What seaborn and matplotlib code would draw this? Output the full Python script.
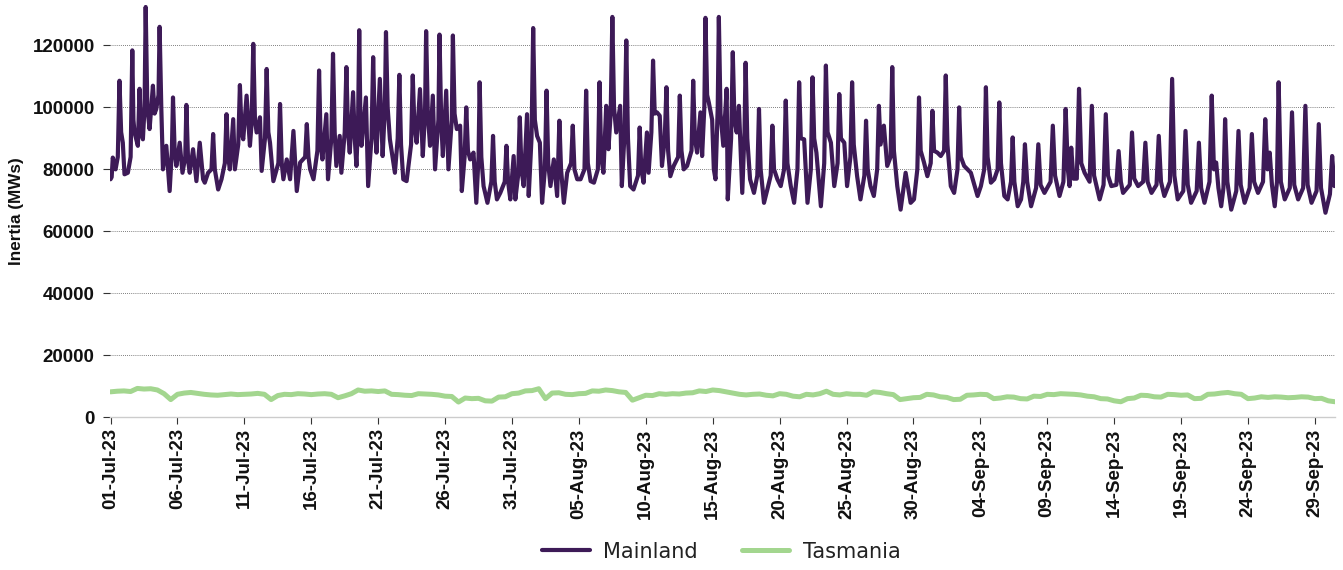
import matplotlib
matplotlib.use("Agg")
import matplotlib.pyplot as plt
import matplotlib.dates as mdates
import seaborn as sns
import pandas as pd

# hours since 01-Jul-23 00:00 and inertia (MWs)
mainland_hours = [
    0, 2, 4, 9, 13, 16, 19, 22, 25, 31,
    36, 39, 41, 43, 49, 52, 55, 58, 61, 63,
    66, 70, 76, 79, 82, 86, 88, 91, 94, 100,
    106, 110, 112, 115, 118, 124, 129, 134, 136, 139,
    142, 148, 154, 160, 166, 169, 175, 181, 184, 187,
    193, 199, 205, 208, 211, 214, 220, 223, 229, 232,
    235, 238, 244, 250, 253, 256, 259, 262, 268, 271,
    277, 280, 283, 286, 292, 301, 304, 307, 310, 316,
    322, 328, 334, 340, 349, 352, 355, 358, 364, 371,
    374, 377, 380, 387, 390, 396, 399, 402, 405, 411,
    414, 420, 423, 426, 429, 435, 438, 441, 444, 446,
    448, 450, 458, 462, 468, 471, 474, 477, 483, 488,
    492, 494, 497, 501, 510, 515, 518, 521, 525, 531,
    539, 542, 545, 549, 555, 560, 564, 566, 569, 573,
    578, 582, 588, 590, 593, 596, 602, 606, 612, 614,
    617, 621, 627, 630, 635, 638, 641, 645, 651, 656,
    660, 662, 665, 669, 676, 683, 686, 689, 693, 699,
    707, 710, 713, 717, 723, 726, 731, 734, 737, 741,
    747, 750, 755, 758, 761, 765, 770, 774, 779, 782,
    785, 789, 795, 801, 805, 808, 813, 819, 826, 829,
    832, 837, 843, 850, 853, 856, 861, 867, 874, 877,
    880, 884, 889, 893, 897, 900, 903, 907, 914, 917,
    922, 925, 928, 932, 938, 946, 949, 952, 956, 962,
    965, 970, 973, 976, 980, 985, 989, 994, 997, 1000,
    1004, 1010, 1018, 1021, 1024, 1028, 1034, 1042, 1045, 1048,
    1052, 1058, 1061, 1065, 1067, 1070, 1073, 1079, 1082, 1085,
    1089, 1091, 1094, 1099, 1105, 1107, 1113, 1116, 1119, 1123,
    1127, 1133, 1137, 1139, 1142, 1147, 1154, 1160, 1163, 1166,
    1172, 1178, 1184, 1187, 1190, 1196, 1202, 1208, 1211, 1214,
    1220, 1226, 1232, 1235, 1238, 1244, 1250, 1256, 1259, 1262,
    1266, 1274, 1280, 1283, 1286, 1292, 1298, 1304, 1307, 1310,
    1316, 1321, 1327, 1330, 1333, 1339, 1345, 1352, 1355, 1358,
    1363, 1369, 1375, 1378, 1381, 1387, 1393, 1399, 1402, 1405,
    1411, 1417, 1426, 1435, 1441, 1447, 1450, 1453, 1459, 1465,
    1471, 1474, 1477, 1483, 1489, 1495, 1498, 1501, 1507, 1513,
    1519, 1522, 1525, 1531, 1543, 1555, 1561, 1567, 1570, 1573,
    1579, 1585, 1591, 1594, 1597, 1603, 1609, 1615, 1618, 1621,
    1627, 1633, 1637, 1640, 1644, 1651, 1660, 1664, 1668, 1675,
    1686, 1690, 1694, 1702, 1709, 1713, 1717, 1720, 1723, 1727,
    1733, 1737, 1741, 1747, 1756, 1760, 1764, 1774, 1781, 1785,
    1789, 1795, 1804, 1808, 1812, 1816, 1828, 1832, 1836, 1843,
    1852, 1856, 1860, 1867, 1876, 1880, 1884, 1890, 1900, 1904,
    1908, 1914, 1924, 1928, 1932, 1938, 1948, 1952, 1956, 1962,
    1971, 1975, 1979, 1983, 1987, 1992, 1996, 1999, 2003, 2010,
    2019, 2023, 2027, 2034, 2043, 2047, 2051, 2058, 2067, 2071,
    2075, 2079, 2083, 2088, 2092, 2095, 2099, 2106, 2115, 2119,
    2123, 2130, 2139, 2143, 2147, 2154, 2163, 2167, 2171, 2179,
    2187, 2191, 2195,
]
mainland_mw = [
    76800, 77500, 83800, 80000, 84000, 108600, 92000, 88600, 78400, 78900,
    84000, 118400, 96000, 91900, 87600, 106000, 92000, 89700, 100000, 132400,
    100000, 93000, 107000, 98000, 99500, 104000, 126000, 100000, 80000, 87600,
    73000, 86000, 103200, 86000, 81100, 88600, 78900, 84000, 100800, 83000,
    78900, 86500, 76200, 88600, 76800, 75700, 78900, 80000, 91400, 80000,
    73500, 76800, 82000, 97800, 84000, 80000, 96200, 80000, 88000, 107200,
    92000, 89700, 103800, 87600, 95000, 120500, 96000, 91900, 96800, 79500,
    90000, 112400, 92000, 88600, 76200, 82000, 101100, 82000, 76800, 83200,
    76800, 92400, 73000, 82200, 84000, 94600, 84000, 80000, 76800, 86000,
    111900, 88000, 83200, 97800, 76800, 90000, 117300, 92000, 81100, 90800,
    78900, 92000, 113000, 92000, 85400, 104900, 90000, 81100, 96000, 124900,
    98000, 87600, 103200, 74600, 90000, 116200, 94000, 85400, 109200, 84300,
    100000, 124300, 100000, 89700, 78900, 90000, 110500, 88000, 76800, 76200,
    88000, 110300, 94000, 88600, 105900, 84300, 98000, 124600, 98000, 87600,
    103800, 80000, 96000, 123500, 96000, 84300, 105400, 80000, 96000, 123200,
    98000, 93000, 94100, 73000, 84000, 100000, 86000, 83200, 85400, 69200,
    84000, 108100, 84000, 74600, 69200, 76000, 90800, 76000, 70300, 72400,
    76000, 87600, 76000, 70300, 84300, 70300, 78000, 96800, 80000, 74600,
    97800, 71400, 90000, 125600, 96000, 90800, 88600, 69200, 80000, 105400,
    82000, 74600, 83200, 71400, 95700, 80000, 69200, 78900, 82000, 94100,
    80000, 76800, 76800, 80000, 105400, 82000, 76200, 75700, 80000, 108100,
    84000, 78900, 100500, 86500, 98000, 129200, 100000, 91900, 100500, 74600,
    92000, 121600, 90000, 74600, 73500, 78000, 93500, 80000, 75700, 91900,
    78900, 92000, 115100, 98000, 98400, 97300, 81100, 90000, 106500, 86000,
    77800, 81100, 84000, 103800, 86000, 80000, 81100, 86000, 108600, 90000,
    85400, 98400, 84300, 100000, 128900, 104000, 101600, 96000, 80000, 76800,
    100000, 129200, 98000, 87600, 106000, 70300, 90000, 117800, 96000, 91900,
    100500, 72400, 92000, 114400, 90000, 76800, 72400, 78000, 99500, 80000,
    69200, 73500, 78000, 94100, 80000, 76800, 74600, 80000, 102200, 82000,
    74600, 69200, 80000, 108100, 90000, 89700, 69200, 80000, 109700, 90000,
    85400, 68100, 82000, 113500, 92000, 88600, 74600, 82000, 104300, 90000,
    88600, 74600, 84000, 108100, 88000, 77800, 70300, 78000, 95700, 80000,
    74600, 71400, 80000, 100500, 88000, 94100, 81100, 84000, 113000, 86000,
    74600, 67000, 78900, 69200, 70300, 80000, 103200, 86000, 82200, 77800,
    82000, 98900, 86000, 85400, 84300, 86000, 110300, 88000, 74600, 72400,
    80000, 100000, 84000, 81100, 78900, 71400, 74600, 80000, 106500, 84000,
    75700, 76800, 80000, 101600, 82000, 71400, 70300, 76000, 90300, 76000,
    68100, 70300, 76000, 88100, 76000, 68100, 74000, 88100, 75000, 72400,
    76000, 94100, 78000, 71400, 76000, 99500, 80000, 74600, 87000, 77000,
    77000, 106000, 82000, 78900, 76000, 100500, 78000, 70300, 75000, 97800,
    78000, 74600, 75000, 85900, 76000, 72400, 75000, 91900, 77000, 74600,
    76000, 88600, 76000, 72400, 75000, 90800, 76000, 71400, 76000, 109200,
    78000, 70300, 73000, 92400, 75000, 69200, 73000, 88600, 74000, 69200,
    76000, 103800, 80000, 82200, 74000, 68100, 74000, 96200, 76000, 67000,
    73000, 92400, 75000, 69200, 74000, 91400, 76000, 72400, 76000, 96200,
    80000, 85400, 75000, 68100, 76000, 108100, 76000, 70300, 74000, 98400,
    75000, 70300, 74000, 100500, 75000, 69200, 73000, 94600, 74000, 66000,
    72000, 84300, 74600,
]

# Tasmania: two readings a day (00:00 and 12:00)
tasmania_mw = [
    8200, 8400, 8500, 8300, 9300, 9100, 9200, 8800, 7600, 5700, 7400, 7800, 8000, 7700, 7400, 7200, 7100, 7300, 7500, 7300,
    7400, 7500, 7700, 7400, 5700, 7000, 7400, 7300, 7600, 7500, 7300, 7500, 7600, 7400, 6300, 6900, 7600, 8800, 8400, 8500,
    8300, 8500, 7400, 7300, 7100, 7000, 7600, 7500, 7400, 7200, 6800, 6700, 4900, 6200, 6000, 6100, 5300, 5200, 6500, 6600,
    7600, 7800, 8500, 8600, 9200, 6000, 7800, 7900, 7400, 7300, 7600, 7700, 8500, 8400, 8800, 8600, 8200, 8000, 5500, 6300,
    7100, 7000, 7600, 7400, 7600, 7500, 7800, 7900, 8500, 8300, 8800, 8600, 8200, 7800, 7400, 7200, 7400, 7500, 7100, 6900,
    7600, 7400, 6800, 6600, 7400, 7200, 7600, 8400, 7400, 7200, 7600, 7400, 7400, 7100, 8200, 8000, 7600, 7300, 5700, 6000,
    6300, 6400, 7400, 7200, 6600, 6400, 5700, 5800, 7100, 7200, 7400, 7300, 6000, 6200, 6600, 6500, 6000, 5900, 6800, 6700,
    7400, 7300, 7600, 7500, 7400, 7200, 6800, 6600, 6000, 5900, 5300, 5000, 6000, 6200, 7100, 7000, 6600, 6500, 7400, 7300,
    7100, 7200, 6000, 6100, 7400, 7500, 7800, 8000, 7600, 7400, 6000, 6200, 6600, 6400, 6600, 6500, 6300, 6400, 6600, 6500,
    6000, 6100, 5300, 5000,
]
tasmania_hours = list(range(0, 12 * len(tasmania_mw), 12))

tick_dates = pd.date_range("2023-07-01", "2023-09-29", freq="5D")
start = pd.Timestamp("2023-07-01")

mainland = pd.DataFrame({"time": start + pd.to_timedelta(mainland_hours, unit="h"), "mw": mainland_mw})
tasmania = pd.DataFrame({"time": start + pd.to_timedelta(tasmania_hours, unit="h"), "mw": tasmania_mw})

sns.set_theme(style="white")
plt.rcParams["font.family"] = ["Liberation Sans", "DejaVu Sans"]

fig = plt.figure(figsize=(13.43, 5.70), dpi=100)
ax = fig.add_axes([0.0819, 0.268, 0.9121, 0.723])

sns.lineplot(data=mainland, x="time", y="mw", ax=ax, color="#3d1a57", lw=3.0,
             estimator=None, label="Mainland")
sns.lineplot(data=tasmania, x="time", y="mw", ax=ax, color="#a3d68f", lw=3.6,
             estimator=None, label="Tasmania")

ax.set_ylim(0, 133000)
ax.set_xlim(start - pd.Timedelta(hours=1), start + pd.Timedelta(hours=2196))
ax.set_yticks(range(0, 120001, 20000))
ax.set_xticks(tick_dates)
ax.xaxis.set_major_formatter(mdates.DateFormatter("%d-%b-%y"))
ax.grid(axis="y", color="#555555", ls=(0, (1, 1.5)), lw=0.6)
ax.grid(axis="x", visible=False)

for s in ["top", "right", "left"]:
    ax.spines[s].set_visible(False)
ax.spines["bottom"].set_color("#cccccc")
ax.spines["bottom"].set_linewidth(1)

ax.tick_params(axis="y", left=True, length=5, width=0.8, color="#333333", labelsize=13.5, pad=6)
ax.tick_params(axis="x", bottom=True, length=5, width=0.8, color="#333333", labelsize=13.5, pad=3)
plt.setp(ax.get_xticklabels(), rotation=90, fontweight="bold", color="#111111")
plt.setp(ax.get_yticklabels(), fontweight="bold", color="#111111")

ax.set_xlabel("")
ax.set_ylabel("Inertia (MWs)", fontsize=12.3, fontweight="bold", labelpad=6, color="#111111")

ax.legend_.remove()
handles, labels = ax.get_legend_handles_labels()
leg = fig.legend(handles, labels, loc="center", bbox_to_anchor=(0.537, 0.032), ncol=2,
                 frameon=False, prop={"family": "DejaVu Sans", "size": 15},
                 handlelength=2.3, columnspacing=2.1, handletextpad=0.63)
for t in leg.get_texts():
    t.set_color("#222222")

fig.savefig("out.png", dpi=100)
